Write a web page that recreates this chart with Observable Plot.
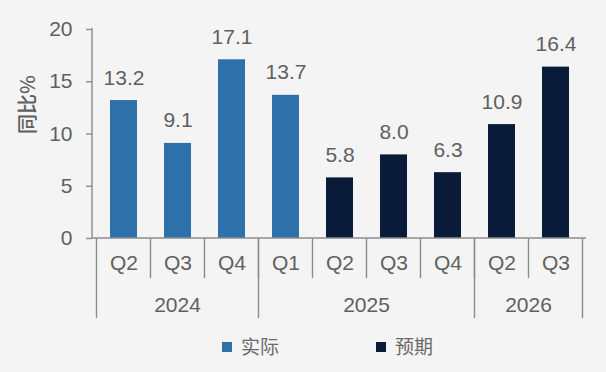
<!DOCTYPE html>
<html>
<head>
<meta charset="utf-8">
<script src="https://cdn.jsdelivr.net/npm/d3@7"></script>
<script src="https://cdn.jsdelivr.net/npm/@observablehq/plot@0.6"></script>
<style>
  html, body { margin: 0; padding: 0; background: #f4f4f4; }
  #chart { width: 606px; height: 372px; position: relative; font-family: "Liberation Sans", Arial, sans-serif; }
  #legend { position: relative; width: 606px; height: 42px; font-family: "Noto Sans CJK SC", sans-serif; font-size: 19px; color: #6a6a6a; }
  .sw { position: absolute; top: 12px; width: 10px; height: 10px; }
  .lb { position: absolute; top: 3px; line-height: 26px; }
</style>
</head>
<body>
<div id="chart"></div>
<script>
const years = ["2024", "2024", "2024", "2025", "2025", "2025", "2025", "2026", "2026"];
const quarters = ["Q2", "Q3", "Q4", "Q1", "Q2", "Q3", "Q4", "Q2", "Q3"];
const values = [13.2, 9.1, 17.1, 13.7, 5.8, 8.0, 6.3, 10.9, 16.4];
const types = ["实际", "实际", "实际", "实际", "预期", "预期", "预期", "预期", "预期"];
const seriesNames = ["实际", "预期"];
const seriesColors = ["#2E70AA", "#0A1B3A"];
const yTicks = [0, 5, 10, 15, 20];
const yLabel = "同比%";

const data = years.map((y, i) => ({
  key: y + "-" + quarters[i],
  year: y,
  quarter: quarters[i],
  value: values[i],
  type: types[i]
}));
const keys = data.map(d => d.key);
const qOf = Object.fromEntries(data.map(d => [d.key, d.quarter]));

const textColor = "#606060";
const lineColor = "#8c8c8c";
const fs = 21;

function hierAxis(index, scales, vals, dims) {
  const {marginLeft, marginRight, marginTop, marginBottom, width, height} = dims;
  const x = scales.x;
  const bw = x.bandwidth ? x.bandwidth() : 0;
  const step = x.step ? x.step() : (width - marginLeft - marginRight) / keys.length;
  const center = k => x(k) + bw / 2;
  const leftOf = k => center(k) - step / 2;
  const rightOf = k => center(k) + step / 2;
  const y0 = height - marginBottom;
  const qBottom = y0 + 40;
  const yBottom = y0 + 80;
  const g = d3.create("svg:g");
  const lines = g.append("g").attr("stroke", lineColor).attr("stroke-width", 1.4).attr("fill", "none");
  lines.append("line").attr("x1", marginLeft).attr("x2", marginLeft).attr("y1", marginTop - 1).attr("y2", y0);
  keys.forEach((k, i) => {
    if (i > 0) lines.append("line").attr("x1", leftOf(k)).attr("x2", leftOf(k)).attr("y1", y0).attr("y2", qBottom);
  });
  const groups = d3.groups(data, d => d.year);
  const yg = g.append("g").attr("fill", textColor).attr("font-size", fs).attr("text-anchor", "middle")
    .attr("font-family", "'Liberation Sans', Arial, sans-serif");
  groups.forEach(([yr, rows], gi) => {
    const l = leftOf(rows[0].key), r = rightOf(rows[rows.length - 1].key);
    lines.append("line").attr("x1", l).attr("x2", l).attr("y1", y0).attr("y2", yBottom);
    if (gi === groups.length - 1) lines.append("line").attr("x1", r).attr("x2", r).attr("y1", y0).attr("y2", yBottom);
    yg.append("text").attr("x", (l + r) / 2).attr("y", y0 + 74).text(yr);
  });
  lines.append("line").attr("x1", marginLeft).attr("x2", width - marginRight).attr("y1", y0).attr("y2", y0);
  return g.node();
}

const plot = Plot.plot({
  width: 606,
  height: 330,
  marginLeft: 92,
  marginRight: 20,
  marginTop: 29,
  marginBottom: 92,
  style: { background: "#f4f4f4", fontFamily: "'Liberation Sans', Arial, sans-serif", color: textColor },
  x: { domain: keys, paddingInner: 0.5, paddingOuter: 0.25, label: null },
  y: { domain: [0, 20], label: null },
  color: { domain: seriesNames, range: seriesColors },
  marks: [
    Plot.barY(data, { x: "key", y: "value", fill: "type" }),
    Plot.text(data, {
      x: "key", y: "value", text: d => d.value.toFixed(1),
      lineAnchor: "bottom", dy: -16, fontSize: fs, fill: textColor
    }),
    Plot.axisY({
      ticks: yTicks, tickSize: 6, tickPadding: 14, fontSize: fs, label: null,
      stroke: lineColor, strokeWidth: 1.4, color: textColor
    }),
    Plot.axisX({
      tickSize: 0, tickPadding: 17, fontSize: fs, label: null,
      tickFormat: k => qOf[k], color: textColor
    }),
    Plot.text([yLabel], {
      frameAnchor: "left", text: d => d, rotate: -90, dx: -64,
      fontSize: 20, fontWeight: 500, fill: textColor,
      fontFamily: "'Noto Sans CJK SC', sans-serif"
    }),
    hierAxis
  ]
});

const chart = document.getElementById("chart");
chart.appendChild(plot);

const legend = document.createElement("div");
legend.id = "legend";
const pos = [[222, 241], [376, 395]];
seriesNames.forEach((name, i) => {
  const sw = document.createElement("div");
  sw.className = "sw";
  sw.style.left = pos[i][0] + "px";
  sw.style.background = seriesColors[i];
  const lb = document.createElement("div");
  lb.className = "lb";
  lb.style.left = pos[i][1] + "px";
  lb.textContent = name;
  legend.appendChild(sw);
  legend.appendChild(lb);
});
chart.appendChild(legend);
</script>
</body>
</html>
